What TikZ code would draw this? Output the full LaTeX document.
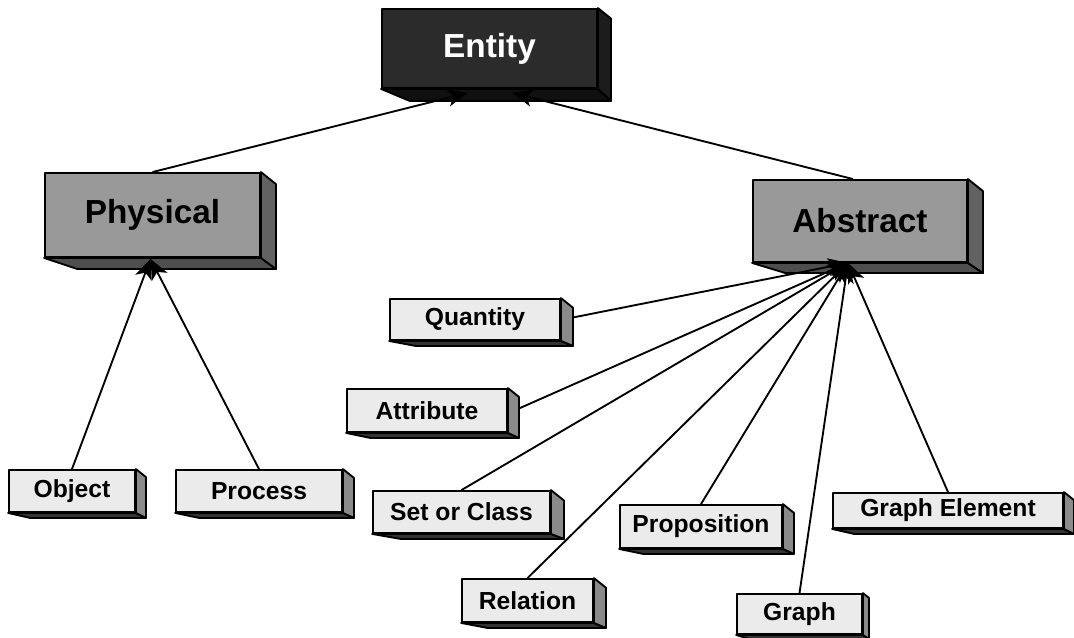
\documentclass[tikz,border=0pt]{standalone}
\usepackage{fontspec}
\setmainfont{Liberation Sans}
\usetikzlibrary{calc,arrows.meta}

\definecolor{darkfront}{HTML}{2B2B2B}
\definecolor{darkside}{HTML}{1C1C1C}
\definecolor{darkbottom}{HTML}{101010}
\definecolor{midfront}{HTML}{999999}
\definecolor{midside}{HTML}{626262}
\definecolor{midbottom}{HTML}{4E4E4E}
\definecolor{lightfront}{HTML}{EBEBEB}
\definecolor{lightside}{HTML}{8A8A8A}
\definecolor{lightbottom}{HTML}{333333}

% side and bottom faces of an extruded box: node, dx, dy, side colour, bottom colour
\newcommand{\boxdepth}[5]{%
  \filldraw[fill=#5, boxedge] (#1.south west) -- ($(#1.south west)+(2.2*#2,#3)$)
    -- ($(#1.south east)+(#2,#3)$) -- (#1.south east) -- cycle;
  \filldraw[fill=#4, boxedge] (#1.north east) -- ($(#1.north east)+(#2,0.8*#2)$)
    -- ($(#1.south east)+(#2,#3)$) -- (#1.south east) -- cycle;
}

\tikzset{
  x=0.75pt, y=-0.75pt,
  boxedge/.style={draw=black, line width=1.4pt, line join=round},
  sz/.style 2 args={minimum width=#1*0.75pt, minimum height=#2*0.75pt},
  basebox/.style={boxedge, inner sep=0pt, font=\bfseries},
  bigbox/.style={basebox, font=\fontsize{25}{28}\selectfont\bfseries},
  smallbox/.style={basebox, fill=lightfront, font=\fontsize{18.5}{21}\selectfont\bfseries},
  link/.style={draw=black, line width=1.4pt, -{Stealth[length=15pt,width=13pt,inset=4pt]}},
}

\begin{document}
\begin{tikzpicture}
\useasboundingbox (0,0) rectangle (1074,638);

% top level
\node[bigbox, fill=darkfront, text=white, sz={215}{79}] (entity) at (489.5,48.5) {Entity};
\boxdepth{entity}{13}{12}{darkside}{darkbottom}

% second level
\node[bigbox, fill=midfront, sz={215}{84}] (physical) at (152.5,215) {Physical};
\boxdepth{physical}{15}{11}{midside}{midbottom}
\node[bigbox, fill=midfront, sz={214}{82}] (abstract) at (860,221) {Abstract};
\boxdepth{abstract}{15}{10}{midside}{midbottom}

% leaves
\node[smallbox, sz={126}{42}] (object) at (72,491) {Object};
\boxdepth{object}{10}{5}{lightside}{lightbottom}
\node[smallbox, sz={166}{42}] (process) at (259,491) {Process};
\boxdepth{process}{11}{5}{lightside}{lightbottom}
\node[smallbox, sz={170}{41}] (quantity) at (475,319.5) {Quantity};
\boxdepth{quantity}{12}{5}{lightside}{lightbottom}
\node[smallbox, sz={160}{43}] (attribute) at (427,410.5) {Attribute};
\boxdepth{attribute}{11}{5}{lightside}{lightbottom}
\node[smallbox, sz={177}{42}] (setclass) at (461.5,512) {Set or Class};
\boxdepth{setclass}{13}{5}{lightside}{lightbottom}
\node[smallbox, sz={162}{43}] (proposition) at (701,526.5) {Proposition};
\boxdepth{proposition}{11}{5}{lightside}{lightbottom}
\node[smallbox, sz={131}{43}] (relation) at (527.5,600.5) {Relation};
\boxdepth{relation}{12}{5}{lightside}{lightbottom}
\node[smallbox, sz={125}{40}] (graph) at (799.5,614) {Graph};
\boxdepth{graph}{6}{4}{lightside}{lightbottom}
\node[smallbox, sz={230}{35}] (graphelem) at (948,510.5) {Graph Element};
\boxdepth{graphelem}{10}{5}{lightside}{lightbottom}

% arrow targets on the lower edges
\coordinate (entL) at ($(entity.south)+(-22,4)$);
\coordinate (entR) at ($(entity.south)+(23,4)$);
\coordinate (physIn) at ($(physical.south)+(-2,1)$);
\coordinate (absIn) at ($(abstract.south)+(-12,0)$);

% is-a links
\draw[link] (physical.north) -- (entL);
\draw[link] ([xshift=-7*0.75pt]abstract.north) -- (entR);
\draw[link] (object.north) -- (physIn);
\draw[link] (process.north) -- (physIn);
\draw[link] ($(quantity.east)+(12,-2)$) -- (absIn);
\draw[link] ($(attribute.east)+(11,-2)$) -- (absIn);
\draw[link] (setclass.north) -- (absIn);
\draw[link] (relation.north) -- (absIn);
\draw[link] (proposition.north) -- (absIn);
\draw[link] (graph.north) -- (absIn);
\draw[link] (graphelem.north) -- (absIn);
\end{tikzpicture}
\end{document}
